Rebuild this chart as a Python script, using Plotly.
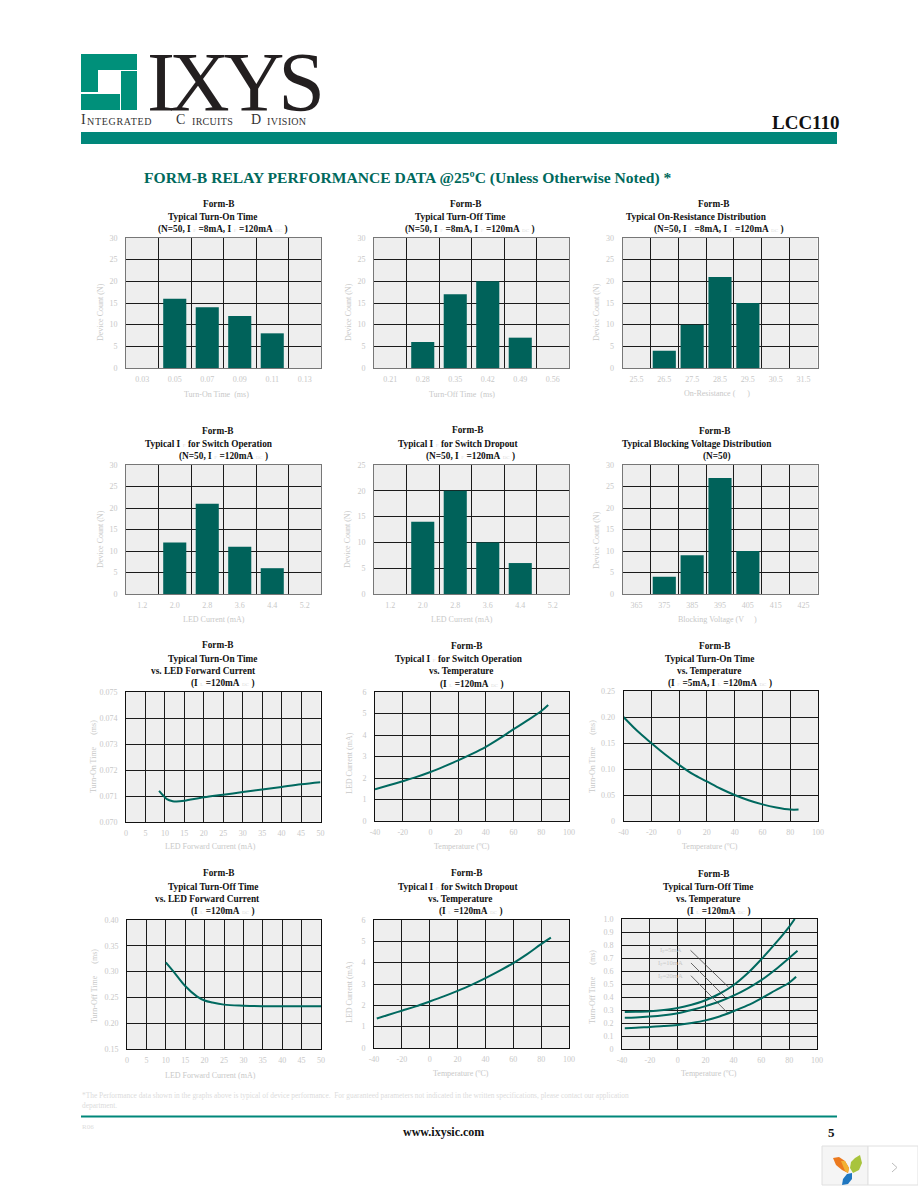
import plotly.graph_objects as go

W, H = 918, 1188
SERIF = "Liberation Serif"
TEAL_BAR = "#00625a"
TEAL_LINE = "#00695f"
TEAL_RULE = "#00877a"
PLOT_BG = "#eeeeee"
FAINT = "#c8c8c8"

# ---------- data: histograms ----------
on_time_cats = ["0.03", "0.05", "0.07", "0.09", "0.11", "0.13"]
on_time_counts = [0, 16, 14, 12, 8, 0]
off_time_cats = ["0.21", "0.28", "0.35", "0.42", "0.49", "0.56"]
off_time_counts = [0, 6, 17, 20, 7, 0]
res_cats = ["25.5", "26.5", "27.5", "28.5", "29.5", "30.5", "31.5"]
res_counts = [0, 4, 10, 21, 15, 0, 0]
op_cats = ["1.2", "2.0", "2.8", "3.6", "4.4", "5.2"]
op_counts = [0, 12, 21, 11, 6, 0]
drop_cats = ["1.2", "2.0", "2.8", "3.6", "4.4", "5.2"]
drop_counts = [0, 14, 20, 10, 6, 0]
block_cats = ["365", "375", "385", "395", "405", "415", "425"]
block_counts = [0, 4, 9, 27, 10, 0, 0]

# ---------- data: curves ----------
ton_if_x = [8.5, 9.5, 10.5, 12, 13, 15, 20, 25, 30, 35, 40, 45, 50]
ton_if_y = [0.0712, 0.07103, 0.07088, 0.0708, 0.07079, 0.07082, 0.07095, 0.07105, 0.07115, 0.07125, 0.07135, 0.07145, 0.07153]
op_t_x = [-40, -30, -20, -10, 0, 10, 20, 30, 40, 50, 60, 70, 80, 85]
op_t_y = [1.47, 1.66, 1.85, 2.05, 2.28, 2.54, 2.82, 3.12, 3.45, 3.84, 4.27, 4.68, 5.12, 5.4]
ton_t_x = [-40, -30, -20, -10, 0, 10, 20, 30, 40, 50, 60, 70, 80, 86]
ton_t_y = [0.2, 0.173, 0.15, 0.128, 0.108, 0.09, 0.076, 0.062, 0.05, 0.04, 0.032, 0.026, 0.022, 0.022]
toff_if_x = [10, 12, 15, 18, 20, 22, 25, 30, 35, 40, 45, 50]
toff_if_y = [0.318, 0.3, 0.272, 0.252, 0.244, 0.24, 0.236, 0.234, 0.233, 0.233, 0.233, 0.233]
drop_t_x = [-38, -30, -20, -10, 0, 10, 20, 30, 40, 50, 60, 70, 80, 87]
drop_t_y = [1.38, 1.55, 1.75, 1.95, 2.18, 2.42, 2.68, 2.96, 3.28, 3.62, 3.98, 4.4, 4.87, 5.17]
toff_5ma_x = [-38, -30, -20, -10, 0, 10, 20, 30, 40, 50, 60, 70, 80, 84]
toff_5ma_y = [0.285, 0.286, 0.29, 0.30, 0.315, 0.34, 0.375, 0.425, 0.49, 0.58, 0.69, 0.81, 0.94, 1.0]
toff_10ma_x = [-38, -30, -20, -10, 0, 10, 20, 30, 40, 50, 60, 70, 80, 86]
toff_10ma_y = [0.24, 0.243, 0.25, 0.26, 0.275, 0.30, 0.33, 0.365, 0.41, 0.465, 0.53, 0.61, 0.70, 0.755]
toff_20ma_x = [-38, -30, -20, -10, 0, 10, 20, 30, 40, 50, 60, 70, 80, 85]
toff_20ma_y = [0.16, 0.163, 0.17, 0.176, 0.185, 0.20, 0.22, 0.25, 0.29, 0.335, 0.39, 0.45, 0.51, 0.555]
leader_x = [[9.2, 36.4], [9.5, 34], [9.5, 35.9]]
leader_y = [[0.759, 0.477], [0.662, 0.40], [0.564, 0.277]]
leader_text = ["I<sub>F</sub>=5mA", "I<sub>F</sub>=10mA", "I<sub>F</sub>=20mA"]

# ---------- tick labels ----------
count30 = ["0", "5", "10", "15", "20", "25", "30"]
count25 = ["0", "5", "10", "15", "20", "25"]
temp_ticks = [-40, -20, 0, 20, 40, 60, 80, 100]
if_ticks = [0, 5, 10, 15, 20, 25, 30, 35, 40, 45, 50]
ton_if_yticks = [0.070, 0.071, 0.072, 0.073, 0.074, 0.075]
ton_if_ylabels = ["0.070", "0.071", "0.072", "0.073", "0.074", "0.075"]
ma_ticks = [0, 1, 2, 3, 4, 5, 6]
ton_t_yticks = [0, 0.05, 0.10, 0.15, 0.20, 0.25]
ton_t_ylabels = ["0", "0.05", "0.10", "0.15", "0.20", "0.25"]
toff_if_yticks = [0.15, 0.20, 0.25, 0.30, 0.35, 0.40]
toff_if_ylabels = ["0.15", "0.20", "0.25", "0.30", "0.35", "0.40"]
toff_t_yticks = [0, 0.1, 0.2, 0.3, 0.4, 0.5, 0.6, 0.7, 0.8, 0.9, 1.0]
toff_t_ylabels = ["0", "0.1", "0.2", "0.3", "0.4", "0.5", "0.6", "0.7", "0.8", "0.9", "1.0"]


def sub(s):
    return f"<span style='font-size:5px;color:#dddddd;font-weight:normal'>&nbsp;&nbsp;{s}&nbsp;&nbsp;</span>"


# panel boxes in page pixels: x0, x1, y0, y1
BOX = {
    1: (126, 321, 238, 368), 2: (374, 569, 238, 368), 3: (622.5, 817.5, 238, 368),
    4: (126, 321, 465, 594), 5: (374, 569, 465, 594), 6: (622.5, 817.5, 465, 594),
    7: (126, 320.5, 692, 822), 8: (375, 569, 692, 821), 9: (623.5, 818, 691, 821),
    10: (127, 321, 920, 1049), 11: (374, 569, 920, 1048), 12: (622, 817, 919, 1049),
}

TITLES = {
    1: [("Form-B", 219, 204), ("Typical Turn-On Time", 212, 217),
        (f"(N=50, I{sub('F')}=8mA, I{sub('F')}=120mA{sub('DC')})", 223, 230)],
    2: [("Form-B", 466, 204), ("Typical Turn-Off Time", 460, 217),
        (f"(N=50, I{sub('F')}=8mA, I{sub('F')}=120mA{sub('DC')})", 470, 230)],
    3: [("Form-B", 714, 204), ("Typical On-Resistance Distribution", 696, 217),
        (f"(N=50, I{sub('F')}=8mA, I{sub('F')}=120mA{sub('DC')})", 719, 230)],
    4: [("Form-B", 218, 431), (f"Typical I{sub('F')}for Switch Operation", 209, 444),
        (f"(N=50, I{sub('F')}=120mA{sub('DC')})", 223, 456)],
    5: [("Form-B", 468, 430), (f"Typical I{sub('F')}for Switch Dropout", 458, 444),
        (f"(N=50, I{sub('F')}=120mA{sub('DC')})", 470, 456)],
    6: [("Form-B", 715, 431), ("Typical Blocking Voltage Distribution", 697, 444), ("(N=50)", 717, 456)],
    7: [("Form-B", 218, 645), ("Typical Turn-On Time", 212, 659), ("vs. LED Forward Current", 203, 671),
        (f"(I{sub('L')}=120mA{sub('DC')})", 223, 683)],
    8: [("Form-B", 467, 646), (f"Typical I{sub('F')}for Switch Operation", 459, 659), ("vs. Temperature", 461, 671),
        (f"(I{sub('L')}=120mA{sub('DC')})", 472, 684)],
    9: [("Form-B", 715, 646), ("Typical Turn-On Time", 709, 659), ("vs. Temperature", 709, 671),
        (f"(I{sub('F')}=5mA, I{sub('L')}=120mA{sub('DC')})", 720, 683)],
    10: [("Form-B", 219, 873), ("Typical Turn-Off Time", 213, 887), ("vs. LED Forward Current", 207, 899),
         (f"(I{sub('L')}=120mA{sub('DC')})", 223, 912)],
    11: [("Form-B", 467, 873), (f"Typical I{sub('F')}for Switch Dropout", 458, 887), ("vs. Temperature", 460, 899),
         (f"(I{sub('L')}=120mA{sub('DC')})", 471, 912)],
    12: [("Form-B", 714, 874), ("Typical Turn-Off Time", 708, 887), ("vs. Temperature", 708, 899),
         (f"(I{sub('L')}=120mA{sub('DC')})", 719, 911)],
}

XLABEL = {
    1: ("Turn-On Time  (ms)", 216, 394), 2: ("Turn-Off Time  (ms)", 462, 394),
    3: ("On-Resistance (&nbsp;&nbsp;&nbsp;&nbsp;&nbsp;&nbsp;)", 717, 393),
    4: ("LED Current (mA)", 214, 619), 5: ("LED Current (mA)", 462, 619),
    6: ("Blocking Voltage (V&nbsp;&nbsp;&nbsp;&nbsp;&nbsp;)", 717, 619),
    7: ("LED Forward Current (mA)", 210, 846), 8: ("Temperature (ºC)", 462, 846), 9: ("Temperature (ºC)", 710, 846),
    10: ("LED Forward Current (mA)", 210, 1075), 11: ("Temperature (ºC)", 461, 1073), 12: ("Temperature (ºC)", 709, 1073),
}
YLABEL = {
    1: ("Device Count (N)", 100, 312), 2: ("Device Count (N)", 348, 312), 3: ("Device Count (N)", 596, 312),
    4: ("Device Count (N)", 100, 539), 5: ("Device Count (N)", 347, 539), 6: ("Device Count (N)", 596, 540),
    7: ("Turn-On Time&nbsp;&nbsp;&nbsp;&nbsp;&nbsp;&nbsp;(ms)", 93, 757), 8: ("LED Current (mA)", 349, 763),
    9: ("Turn-On Time&nbsp;&nbsp;&nbsp;&nbsp;&nbsp;&nbsp;(ms)", 592, 757),
    10: ("Turn-Off Time&nbsp;&nbsp;&nbsp;&nbsp;&nbsp;&nbsp;(ms)", 94, 986), 11: ("LED Current (mA)", 349, 992),
    12: ("Turn-Off Time&nbsp;&nbsp;&nbsp;&nbsp;&nbsp;&nbsp;(ms)", 592, 987),
}

fig = go.Figure()
annotations = []
shapes = []
layout_axes = {}


def fx(p):
    return p / W


def fy(p):
    return 1 - p / H


def text(t, x, y, size=9.3, color="#111111", bold=False, anchor="center", angle=0):
    annotations.append(dict(
        text=t, x=fx(x), y=fy(y), xref="paper", yref="paper", showarrow=False,
        xanchor=anchor, yanchor="middle", textangle=angle, borderpad=0,
        font=dict(family=SERIF, size=size, color=color, weight="bold" if bold else "normal"),
    ))


def rect(x0, y0, x1, y1, color, line=None):
    shapes.append(dict(type="rect", xref="paper", yref="paper", x0=fx(x0), x1=fx(x1), y0=fy(y0), y1=fy(y1),
                       fillcolor=color, line=dict(width=1 if line else 0, color=line or color), layer="above"))


def path(points, color, close=True, width=0):
    d = "M " + " L ".join(f"{fx(a):.5f} {fy(b):.5f}" for a, b in points) + (" Z" if close else "")
    shapes.append(dict(type="path", xref="paper", yref="paper", path=d, layer="above",
                       fillcolor=color if close else "rgba(0,0,0,0)",
                       line=dict(width=width, color=color)))


def axes(i, xdict, ydict):
    x0, x1, y0, y1 = BOX[i]
    suffix = "" if i == 1 else str(i)
    tick = dict(family=SERIF, size=8, color=FAINT)
    layout_axes["xaxis" + suffix] = dict(
        domain=[fx(x0), fx(x1)], anchor="y" + suffix, showgrid=True, gridcolor="#1a1a1a", gridwidth=1,
        showline=True, mirror=True, zeroline=False, tickfont=tick, ticks="", ticklabelstandoff=3,
        automargin=False, **xdict)
    layout_axes["yaxis" + suffix] = dict(
        domain=[fy(y1), fy(y0)], anchor="x" + suffix, showgrid=True, gridcolor="#1a1a1a", gridwidth=1,
        showline=True, mirror=True, zeroline=False, tickfont=tick, ticks="", ticklabelstandoff=6,
        automargin=False, **ydict)


def bar_panel(i, cats, counts, ymax, ylabels):
    suffix = "" if i == 1 else str(i)
    width = 0.83 if len(cats) == 7 else 0.71
    fig.add_trace(go.Bar(x=cats, y=counts, width=width, marker=dict(color=TEAL_BAR, line=dict(width=0)),
                         xaxis="x" + suffix, yaxis="y" + suffix, showlegend=False))
    axes(i,
         dict(type="category", categoryorder="array", categoryarray=cats, tickson="boundaries",
              linecolor="#777777", linewidth=1),
         dict(range=[0, ymax], tickvals=[int(v) for v in ylabels], ticktext=ylabels,
              linecolor="#777777", linewidth=1))


def line_panel(i, series, xticks, xr, yticks, ylabels, yr):
    suffix = "" if i == 1 else str(i)
    for xs, ys in series:
        fig.add_trace(go.Scatter(x=xs, y=ys, mode="lines", line=dict(color=TEAL_LINE, width=2, shape="spline", smoothing=1.0),
                                 xaxis="x" + suffix, yaxis="y" + suffix, showlegend=False, cliponaxis=True))
    axes(i,
         dict(range=xr, tickvals=xticks, ticktext=[str(v) for v in xticks], linecolor="#111111", linewidth=1),
         dict(range=yr, tickvals=yticks, ticktext=ylabels, linecolor="#111111", linewidth=1))


bar_panel(1, on_time_cats, on_time_counts, 30, count30)
bar_panel(2, off_time_cats, off_time_counts, 30, count30)
bar_panel(3, res_cats, res_counts, 30, count30)
bar_panel(4, op_cats, op_counts, 30, count30)
bar_panel(5, drop_cats, drop_counts, 25, count25)
bar_panel(6, block_cats, block_counts, 30, count30)

ma_labels = [str(v) for v in ma_ticks]
line_panel(7, [(ton_if_x, ton_if_y)], if_ticks, [0, 50], ton_if_yticks, ton_if_ylabels, [0.070, 0.075])
line_panel(8, [(op_t_x, op_t_y)], temp_ticks, [-40, 100], ma_ticks, ma_labels, [0, 6])
line_panel(9, [(ton_t_x, ton_t_y)], temp_ticks, [-40, 100], ton_t_yticks, ton_t_ylabels, [0, 0.25])
line_panel(10, [(toff_if_x, toff_if_y)], if_ticks, [0, 50], toff_if_yticks, toff_if_ylabels, [0.15, 0.40])
line_panel(11, [(drop_t_x, drop_t_y)], temp_ticks, [-40, 100], ma_ticks, ma_labels, [0, 6])
line_panel(12, [(toff_5ma_x, toff_5ma_y), (toff_10ma_x, toff_10ma_y), (toff_20ma_x, toff_20ma_y)],
           temp_ticks, [-40, 100], toff_t_yticks, toff_t_ylabels, [0, 1.0])

# patch behind the last panel's curve labels, and leader lines
shapes.append(dict(type="rect", xref="x12", yref="y12", x0=-19.5, x1=19.5, y0=0.505, y1=0.795,
                   fillcolor=PLOT_BG, line=dict(width=0), layer="below"))
for xs, ys, label in zip(leader_x, leader_y, leader_text):
    fig.add_trace(go.Scatter(x=xs, y=ys, mode="lines", line=dict(color="#444444", width=0.8),
                             xaxis="x12", yaxis="y12", showlegend=False))
    annotations.append(dict(text=label, x=xs[0] - 4.5, y=ys[0], xref="x12", yref="y12", showarrow=False,
                            xanchor="right", yanchor="middle", font=dict(family=SERIF, size=6.5, color=FAINT)))

for i in BOX:
    for t, x, y in TITLES[i]:
        text(t, x, y, bold=True)
    t, x, y = XLABEL[i]
    text(t, x, y, size=8, color=FAINT)
    t, x, y = YLABEL[i]
    text(t, x, y, size=8, color=FAINT, angle=-90)

# ---------- page furniture ----------
LOGO = "#00907a"
rect(81, 54, 98, 92, LOGO)
rect(81, 94, 120, 110, LOGO)
rect(121, 71, 137, 110, LOGO)
rect(98, 54, 137, 70, LOGO)
text("<span style='letter-spacing:-6px'>IXYS</span>", 146, 83, size=84, color="#231f20", anchor="left")
text("I", 80, 120, size=14, color="#333333", anchor="left")
text("<span style='letter-spacing:0.7px'>NTEGRATED</span>", 86, 121, size=10, color="#333333", anchor="left")
text("C", 175, 120, size=14, color="#333333", anchor="left")
text("<span style='letter-spacing:0.3px'>IRCUITS</span>", 191, 121, size=10, color="#333333", anchor="left")
text("D", 250, 120, size=14, color="#333333", anchor="left")
text("<span style='letter-spacing:0.3px'>IVISION</span>", 266, 121, size=10, color="#333333", anchor="left")
text("LCC110", 841, 122, size=19, color="#111111", bold=True, anchor="right")
rect(81, 132, 837, 144, TEAL_RULE)
text("FORM-B RELAY PERFORMANCE DATA @25ºC (Unless Otherwise Noted) *", 143, 178, size=15.6, color="#00695c", bold=True, anchor="left")

text("*The Performance data shown in the graphs above is typical of device performance.  For guaranteed parameters not indicated in the written specifications, please contact our application",
     81, 1095, size=7.4, color="#dcdcdc", anchor="left")
text("department.", 81, 1105, size=7.4, color="#dcdcdc", anchor="left")
rect(81, 1115.5, 837, 1117.5, TEAL_RULE)
text("R06", 81, 1127, size=7, color="#dcdcdc", anchor="left")
text("www.ixysic.com", 443, 1132, size=12, color="#111111", bold=True)
text("5", 831, 1132, size=13, color="#111111", bold=True)

# corner widget
rect(822, 1146, 868, 1185, "#f5f5f5", "#e0e0e0")
rect(868, 1146, 918, 1185, "#ffffff", "#e0e0e0")
path([(833, 1158), (839, 1157), (845, 1161), (849, 1168), (848, 1173), (842, 1170), (836, 1165)], "#ec7a1e")
path([(841, 1161), (845, 1161), (849, 1168), (848, 1173), (845, 1171)], "#f2b134")
path([(860, 1155), (862, 1163), (859, 1170), (853, 1173), (850, 1168), (851, 1162), (855, 1158)], "#a8c43c")
path([(852, 1173), (852, 1179), (848, 1184), (842, 1185), (843, 1179), (847, 1174)], "#1f77c0")
path([(892, 1163), (897, 1167.5), (892, 1172)], "#bbbbbb", close=False, width=1)

fig.update_layout(
    width=W, height=H, autosize=False, margin=dict(l=0, r=0, t=0, b=0, pad=0), template="none",
    paper_bgcolor="#ffffff", plot_bgcolor=PLOT_BG, bargap=0.2,
    annotations=annotations, shapes=shapes, **layout_axes,
)
fig.write_html("out.html", config={"displayModeBar": False},
               post_script="document.body.style.margin='0';document.body.style.overflow='hidden';")
